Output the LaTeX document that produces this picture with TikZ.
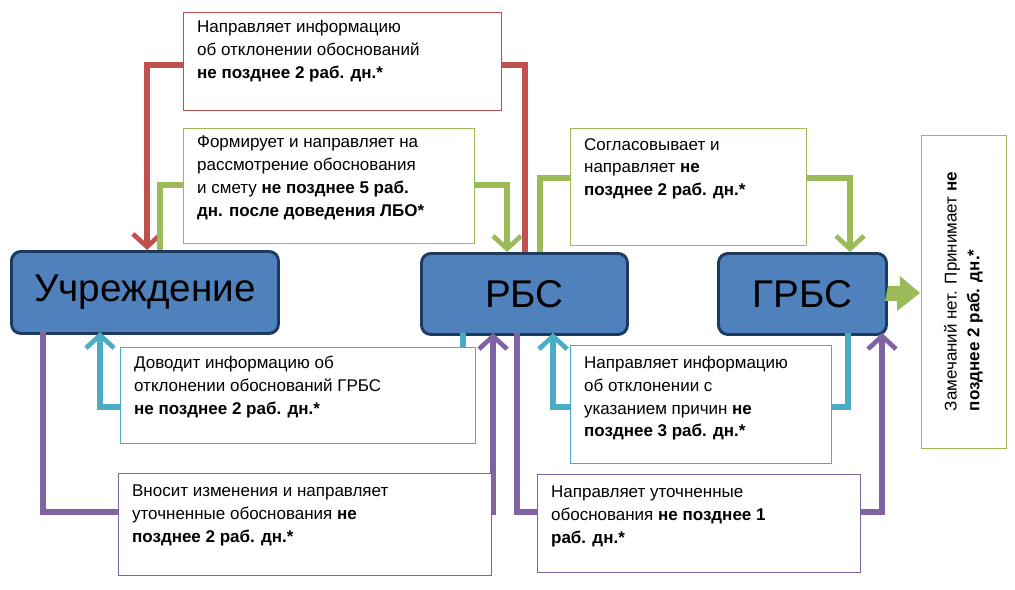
\documentclass[tikz,border=0pt]{standalone}
\usepackage{fontspec}
\setmainfont{Liberation Sans}
\usetikzlibrary{arrows.meta}
\definecolor{cred}{HTML}{C0504D}
\definecolor{cgreen}{HTML}{9BBB59}
\definecolor{ccyan}{HTML}{4BACC6}
\definecolor{cpurple}{HTML}{8064A2}
\definecolor{cblue}{HTML}{4F81BD}
\definecolor{cdark}{HTML}{1F3A60}
\begin{document}
\begin{tikzpicture}[
    x=0.03cm, y=-0.03cm,
    org/.style={draw=cdark, line width=2.5pt, fill=cblue, rounded corners=8pt, font=\fontsize{33}{36}\selectfont, anchor=north west},
    note/.style={draw=#1, line width=1pt, fill=white, anchor=north west, inner sep=0pt},
    txt/.style={anchor=north west, font=\fontsize{14.5}{19.5}\selectfont, align=left},
    flow/.style={draw=#1, line width=5pt, -{Straight Barb[length=11pt, width=24pt, line width=4pt]}},
]
\useasboundingbox (0,0) rectangle (1015,589);
% organisations
\node[org, minimum width=267*0.03cm, minimum height=82*0.03cm] (U) at (10,250) {Учреждение};
\node[org, minimum width=206*0.03cm, minimum height=81*0.03cm] (R) at (420,252) {РБС};
\node[org, minimum width=168*0.03cm, minimum height=81*0.03cm] (G) at (717,252) {ГРБС};
% connectors
\coordinate (r1) at (525,252);
\coordinate (r2) at (147,250);
\draw[flow=cred] (r1) |- (336,65) -| (r2);
\coordinate (g1) at (160,250);
\coordinate (g2) at (507,252);
\draw[flow=cgreen] (g1) |- (330,185) -| (g2);
\coordinate (g3) at (540,252);
\coordinate (g4) at (850,252);
\draw[flow=cgreen] (g3) |- (700,178) -| (g4);
\coordinate (c1) at (463,333);
\coordinate (c2) at (100,332);
\draw[flow=ccyan] (c1) |- (280,407) -| (c2);
\coordinate (c3) at (848,333);
\coordinate (c4) at (553,333);
\draw[flow=ccyan] (c3) |- (700,407) -| (c4);
\coordinate (p1) at (43,332);
\coordinate (p2) at (493,333);
\draw[flow=cpurple] (p1) |- (270,512) -| (p2);
\coordinate (p3) at (517,333);
\coordinate (p4) at (882,333);
\draw[flow=cpurple] (p3) |- (700,512) -| (p4);
% notes
\node[note=cred, minimum width=318*0.03cm, minimum height=98*0.03cm] (nr) at (183,12) {};
\node[txt] at (193,16) {Направляет информацию\\об отклонении обоснований\\\textbf{не позднее 2 раб. дн.*}};
\node[note=cgreen, minimum width=291*0.03cm, minimum height=115*0.03cm] (ng1) at (183,128) {};
\node[txt] at (193,132) {Формирует и направляет на\\рассмотрение обоснования\\и смету \textbf{не позднее 5 раб.}\\\textbf{дн. после доведения ЛБО*}};
\node[note=cgreen, minimum width=236*0.03cm, minimum height=117*0.03cm] (ng2) at (570,128) {};
\node[txt] at (580,134) {Согласовывает и\\направляет \textbf{не}\\\textbf{позднее 2 раб. дн.*}};
\node[note=cgreen, minimum width=85*0.03cm, minimum height=313*0.03cm] (ng3) at (921,135) {};
\node[rotate=90, font=\fontsize{14.5}{19.5}\selectfont, align=left] at (963.5,291.5) {Замечаний нет. Принимает \textbf{не}\\\textbf{позднее 2 раб. дн.*}};
\node[note=ccyan, minimum width=355*0.03cm, minimum height=96*0.03cm] (nc1) at (120,347) {};
\node[txt] at (130,352) {Доводит информацию об\\отклонении обоснований ГРБС\\\textbf{не позднее 2 раб. дн.*}};
\node[note=ccyan, minimum width=261*0.03cm, minimum height=118*0.03cm] (nc2) at (570,345) {};
\node[txt] at (580,352) {Направляет информацию\\об отклонении с\\указанием причин \textbf{не}\\\textbf{позднее 3 раб. дн.*}};
\node[note=cpurple, minimum width=373*0.03cm, minimum height=102*0.03cm] (np1) at (118,473) {};
\node[txt] at (128,481) {Вносит изменения и направляет\\уточненные обоснования \textbf{не}\\\textbf{позднее 2 раб. дн.*}};
\node[note=cpurple, minimum width=323*0.03cm, minimum height=98*0.03cm] (np2) at (537,474) {};
\node[txt] at (547,482) {Направляет уточненные\\обоснования \textbf{не позднее 1}\\\textbf{раб. дн.*}};
% accept arrow
\fill[cgreen] (G.east) ++(0,-8) -- ++(12,0) -- ++(0,-10) -- (920,293) -- (897,311) -- ++(0,-10) -- ++(-12,0) -- cycle;
\end{tikzpicture}
\end{document}
